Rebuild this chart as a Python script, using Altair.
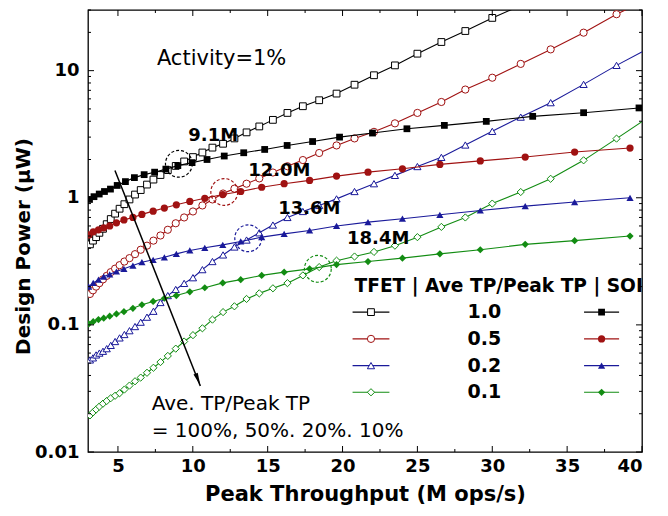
import altair as alt
import pandas as pd

# ---------------- data ----------------
tfet_x = [3.13, 3.33, 3.54, 3.76, 4.00, 4.25, 4.52, 4.81, 5.11, 5.43,
          5.77, 6.14, 6.52, 6.94, 7.37, 7.84, 8.33, 8.86, 9.42, 10.01,
          10.64, 11.31, 12.02, 12.78, 13.59, 14.44, 15.35, 16.32, 17.35, 18.44,
          19.6, 20.8, 22.1, 23.5, 25.0, 26.6, 28.2, 30.0, 31.9, 33.9,
          36.1, 38.3, 40.7]
tfet_10 = [0.43, 0.46, 0.49, 0.53, 0.57, 0.62, 0.68, 0.75, 0.82, 0.89,
           0.97, 1.06, 1.15, 1.27, 1.39, 1.51, 1.65, 1.78, 1.93, 2.09,
           2.27, 2.48, 2.66, 2.93, 3.27, 3.64, 4.1, 4.65, 5.25, 5.85,
           6.6, 7.75, 9.2, 11.0, 13.6, 16.8, 20.5, 26.0, 32.5]
tfet_05 = [0.175, 0.187, 0.20, 0.213, 0.228, 0.243, 0.26, 0.277, 0.295, 0.315,
           0.335, 0.36, 0.39, 0.42, 0.46, 0.505, 0.56, 0.63, 0.70, 0.78,
           0.87, 0.97, 1.08, 1.18, 1.29, 1.42, 1.58, 1.77, 1.98, 2.25,
           2.58, 2.93, 3.3, 3.85, 4.65, 5.67, 7.1, 8.8, 11.3, 14.7,
           19.9, 27.8, 38.0]
tfet_02 = [0.053, 0.055, 0.058, 0.060, 0.062, 0.065, 0.069, 0.074, 0.079, 0.084,
           0.090, 0.097, 0.105, 0.115, 0.128, 0.150, 0.170, 0.19, 0.212, 0.235,
           0.272, 0.315, 0.355, 0.41, 0.465, 0.53, 0.61, 0.70, 0.78, 0.87,
           0.98, 1.12, 1.29, 1.50, 1.76, 2.08, 2.6, 3.33, 4.31, 5.6,
           7.8, 11.0, 15.5]
tfet_01 = [0.0194, 0.0205, 0.0216, 0.0228, 0.024, 0.0252, 0.0265, 0.0277, 0.029, 0.031,
           0.0333, 0.036, 0.0385, 0.042, 0.046, 0.051, 0.057, 0.065, 0.074, 0.083,
           0.094, 0.11, 0.126, 0.14, 0.16, 0.177, 0.194, 0.213, 0.245, 0.285,
           0.32, 0.345, 0.375, 0.42, 0.49, 0.59, 0.70, 0.90, 1.11, 1.41,
           1.97, 2.92, 4.5]

soi1_x = [3.1, 3.4, 3.75, 4.1, 4.5, 4.95, 5.5, 6.1, 6.75, 7.45,
          8.2, 9.0, 9.95, 10.95, 12.1, 13.4, 14.8, 16.3, 18.0, 19.8,
          22.0, 24.3, 26.8, 29.6, 32.7, 36.1, 39.8]
soi_x = [3.05, 3.35, 3.7, 4.05, 4.45, 4.9, 5.4, 6.0, 6.6, 7.35,
         8.1, 8.9, 9.8, 10.8, 12.0, 13.2, 14.6, 16.1, 17.8, 19.6,
         21.7, 24.0, 26.5, 29.2, 32.2, 35.5, 39.2]
soi_10 = [0.97, 1.02, 1.07, 1.12, 1.17, 1.25, 1.34, 1.44, 1.52, 1.59,
          1.68, 1.79, 1.89, 2.0, 2.13, 2.26, 2.40, 2.58, 2.77, 3.0,
          3.23, 3.49, 3.71, 3.99, 4.37, 4.67, 5.09]
soi_05 = [0.51, 0.54, 0.56, 0.58, 0.60, 0.635, 0.67, 0.70, 0.74, 0.785,
          0.83, 0.88, 0.935, 0.99, 1.06, 1.12, 1.21, 1.29, 1.37, 1.48,
          1.59, 1.69, 1.83, 1.95, 2.09, 2.29, 2.46]
soi_02 = [0.20, 0.214, 0.227, 0.24, 0.25, 0.263, 0.276, 0.293, 0.311, 0.325,
          0.34, 0.362, 0.385, 0.404, 0.426, 0.453, 0.49, 0.52, 0.553, 0.60,
          0.643, 0.684, 0.735, 0.794, 0.86, 0.925, 1.0]
soi_01 = [0.102, 0.106, 0.11, 0.113, 0.117, 0.122, 0.127, 0.135, 0.144, 0.153,
          0.162, 0.17, 0.182, 0.196, 0.214, 0.227, 0.245, 0.26, 0.276, 0.298,
          0.315, 0.335, 0.362, 0.39, 0.43, 0.46, 0.50]

ratios = ["1.0", "0.5", "0.2", "0.1"]
x_ticks = [5, 10, 15, 20, 25, 30, 35, 40]
x_minor = [7.5, 12.5, 17.5, 22.5, 27.5, 32.5, 37.5]
y_ticks = [0.01, 0.1, 1, 10]
y_minor = [0.02, 0.03, 0.04, 0.05, 0.06, 0.07, 0.08, 0.09,
           0.2, 0.3, 0.4, 0.5, 0.6, 0.7, 0.8, 0.9,
           2, 3, 4, 5, 6, 7, 8, 9, 20, 30]

# crossing points
cross_labels = ["9.1M", "12.0M", "13.6M", "18.4M"]
cross_x = [9.07, 12.1, 13.7, 18.35]
cross_y = [1.85, 1.11, 0.48, 0.276]
label_x = [9.7, 13.7, 15.7, 20.3]
label_y = [3.08, 1.63, 0.82, 0.475]

# legend rows
legend_y = [0.126, 0.0776, 0.0478, 0.0295]

# ---------------- styling ----------------
W, H = 554, 442
FONT = "DejaVu Sans"
colors = {"1.0": "#000000", "0.5": "#a01212", "0.2": "#1a1a9a", "0.1": "#128c12"}
shapes = {"1.0": "square", "0.5": "circle", "0.2": "triangle-up", "0.1": "diamond"}
sizes = {"1.0": 46, "0.5": 52, "0.2": 52, "0.1": 52}

xs = alt.Scale(domain=[3, 40], nice=False, zero=False)
ys = alt.Scale(type="log", domain=[0.01, 30], nice=False)
x_axis = alt.Axis(values=x_ticks, ticks=False, domain=False, grid=False,
                  labelFont=FONT, labelFontSize=18, labelFontWeight="bold",
                  labelColor="black", labelPadding=5,
                  title="Peak Throughput (M ops/s)", titleFont=FONT,
                  titleFontSize=21, titleFontWeight="bold", titleColor="black",
                  titlePadding=8)
y_axis = alt.Axis(values=y_ticks, format="~g", ticks=False, domain=False, grid=False,
                  labelFont=FONT, labelFontSize=18, labelFontWeight="bold",
                  labelColor="black", labelPadding=9,
                  title="Design Power (μW)", titleFont=FONT,
                  titleFontSize=20, titleFontWeight="bold", titleColor="black",
                  titlePadding=1, titleY=236)
X = alt.X("x:Q", scale=xs, axis=x_axis)
Y = alt.Y("y:Q", scale=ys, axis=y_axis)

layers = []

def add_series(xv, yv, ratio, tech):
    n = min(len(xv), len(yv))
    df = pd.DataFrame({"x": xv[:n], "y": yv[:n]})
    c = colors[ratio]
    base = alt.Chart(df).encode(x=X, y=Y)
    layers.append(base.mark_line(color=c, strokeWidth=1.1, clip=True))
    if tech == "SOI":
        layers.append(base.mark_point(shape=shapes[ratio], filled=True, color=c,
                                      size=sizes[ratio], opacity=1, clip=True))
    else:
        layers.append(base.mark_point(shape=shapes[ratio], fill="white", stroke=c,
                                      fillOpacity=1, strokeWidth=1, opacity=1,
                                      size=sizes[ratio], clip=True))

add_series(tfet_x, tfet_10, "1.0", "TFET")
add_series(tfet_x, tfet_05, "0.5", "TFET")
add_series(tfet_x, tfet_02, "0.2", "TFET")
add_series(tfet_x, tfet_01, "0.1", "TFET")
add_series(soi1_x, soi_10, "1.0", "SOI")
add_series(soi_x, soi_05, "0.5", "SOI")
add_series(soi_x, soi_02, "0.2", "SOI")
add_series(soi_x, soi_01, "0.1", "SOI")

# dashed circles at crossings
circ_df = pd.DataFrame({"x": cross_x, "y": cross_y, "r": ratios})
layers.append(alt.Chart(circ_df).mark_point(shape="circle", size=720, filled=False,
                                            strokeDash=[3, 2], strokeWidth=1.2, opacity=1)
              .encode(x=X, y=Y,
                      stroke=alt.Stroke("r:N", scale=alt.Scale(domain=ratios,
                                        range=[colors[r] for r in ratios]), legend=None)))
lab_df = pd.DataFrame({"x": label_x, "y": label_y, "t": cross_labels})
layers.append(alt.Chart(lab_df).mark_text(font=FONT, fontSize=18, fontWeight="bold",
                                          align="left", baseline="middle", color="black")
              .encode(x=X, y=Y, text="t:N"))

# text annotations
act_df = pd.DataFrame({"x": [7.6], "y": [12.4], "t": ["Activity=1%"]})
layers.append(alt.Chart(act_df).mark_text(font=FONT, fontSize=21, align="left",
                                          baseline="middle", color="black")
              .encode(x=X, y=Y, text="t:N"))
ann_df = pd.DataFrame({"x": [7.25, 7.25], "y": [0.0239, 0.0147],
                       "t": ["Ave. TP/Peak TP", "= 100%, 50%. 20%. 10%"]})
layers.append(alt.Chart(ann_df).mark_text(font=FONT, fontSize=20, align="left",
                                          baseline="middle", color="black")
              .encode(x=X, y=Y, text="t:N"))

# arrow
arrow_df = pd.DataFrame({"x": [4.8], "y": [1.64], "x2": [10.5], "y2": [0.033]})
layers.append(alt.Chart(arrow_df).mark_rule(color="black", strokeWidth=1.5)
              .encode(x=X, y=Y, x2="x2:Q", y2="y2:Q"))
head_df = pd.DataFrame({"x": [10.35], "y": [0.037]})
layers.append(alt.Chart(head_df).mark_point(shape="M-0.35,-1L0.35,-1L0,1Z", size=170,
                                            filled=True, color="black", opacity=1,
                                            angle=338)
              .encode(x=X, y=Y))

# legend block
leg_title = pd.DataFrame({"x": [20.8], "y": [0.203], "t": ["TFET | Ave TP/Peak TP | SOI"]})
layers.append(alt.Chart(leg_title).mark_text(font=FONT, fontSize=18.6, fontWeight="bold",
                                             align="left", baseline="middle",
                                             color="black", clip=True)
              .encode(x=X, y=Y, text="t:N"))
leg_vals = pd.DataFrame({"x": [29.47] * 4, "y": legend_y, "t": ratios})
layers.append(alt.Chart(leg_vals).mark_text(font=FONT, fontSize=19, fontWeight="bold",
                                            align="center", baseline="middle", color="black")
              .encode(x=X, y=Y, text="t:N"))
for i, r in enumerate(ratios):
    c = colors[r]
    for (xa, xb, xm, tech) in [(20.67, 23.13, 21.9, "TFET"), (36.13, 38.47, 37.3, "SOI")]:
        seg = pd.DataFrame({"x": [xa], "x2": [xb], "y": [legend_y[i]]})
        layers.append(alt.Chart(seg).mark_rule(color=c, strokeWidth=1.1)
                      .encode(x=X, x2="x2:Q", y=Y))
        pt = pd.DataFrame({"x": [xm], "y": [legend_y[i]]})
        if tech == "SOI":
            layers.append(alt.Chart(pt).mark_point(shape=shapes[r], filled=True, color=c,
                                                   size=sizes[r], opacity=1)
                          .encode(x=X, y=Y))
        else:
            layers.append(alt.Chart(pt).mark_point(shape=shapes[r], fill="white", stroke=c,
                                                   fillOpacity=1, strokeWidth=1, opacity=1,
                                                   size=sizes[r])
                          .encode(x=X, y=Y))

# inward ticks
def tick_layers(vals, length, axis):
    df = pd.DataFrame({"v": vals})
    out = []
    if axis == "x":
        enc = dict(x=alt.X("v:Q", scale=xs, axis=x_axis))
        out.append(alt.Chart(df).mark_rule(color="black", strokeWidth=1)
                   .encode(y=alt.value(H), y2=alt.value(H - length), **enc))
        out.append(alt.Chart(df).mark_rule(color="black", strokeWidth=1)
                   .encode(y=alt.value(0), y2=alt.value(length), **enc))
    else:
        enc = dict(y=alt.Y("v:Q", scale=ys, axis=y_axis))
        out.append(alt.Chart(df).mark_rule(color="black", strokeWidth=1)
                   .encode(x=alt.value(0), x2=alt.value(length), **enc))
        out.append(alt.Chart(df).mark_rule(color="black", strokeWidth=1)
                   .encode(x=alt.value(W), x2=alt.value(W - length), **enc))
    return out

layers += tick_layers(x_ticks, 6, "x")
layers += tick_layers(x_minor, 3, "x")
layers += tick_layers(y_ticks, 6, "y")
layers += tick_layers(y_minor, 3, "y")

chart = (alt.layer(*layers)
         .properties(width=W, height=H,
                     autosize=alt.AutoSizeParams(type="none"),
                     padding={"left": 80, "top": 2, "right": 18, "bottom": 56},
                     background="white")
         .configure_view(stroke="black", strokeWidth=1.3))

chart.save("out.html", embed_options={"renderer": "svg", "actions": False})
